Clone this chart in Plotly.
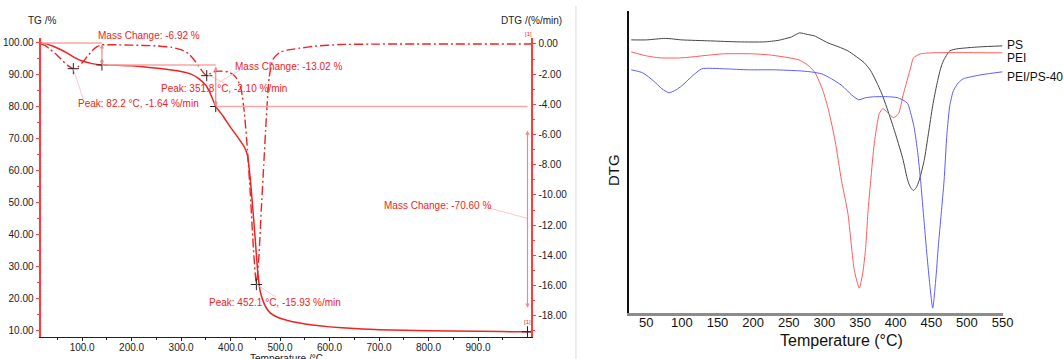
import plotly.graph_objects as go

W, H = 1064, 359


def px(x):
    return x / W


def py(y):
    return 1 - y / H


FONT = "Liberation Sans, Arial, sans-serif"
RED = "#ec2424"
PINK = "#f6a6a6"
LEAD = "#f7bcbc"

# ---------------- Left panel: TG / DTG of PEI/PS-40 ----------------
TG_T = [16, 25, 40, 55, 70, 85, 100, 120, 140, 170, 200, 235, 270, 300, 320, 335, 350,
        360, 370, 385, 400, 415, 428, 434, 440, 446, 450, 455, 460, 466, 472, 480, 495,
        515, 540, 570, 600, 650, 700, 800, 900, 1000, 1008]
TG = [100.0, 99.8, 99.0, 98.0, 96.8, 95.4, 94.3, 93.5, 93.1, 93.0, 92.8, 92.3, 91.7, 91.0,
      90.2, 88.9, 86.7, 83.8, 80.1, 77.0, 73.5, 70.3, 67.3, 64.8, 57.0, 46.0, 38.0, 28.0,
      22.0, 19.0, 17.0, 15.4, 14.0, 13.0, 12.2, 11.5, 11.0, 10.5, 10.1, 9.8, 9.6, 9.46, 9.45]

DTG_T = [16, 25, 35, 48, 60, 70, 82.2, 92, 100, 110, 120, 130, 140, 170, 200, 250, 280, 300,
         315, 325, 335, 345, 351.8, 358, 366, 378, 395, 408, 416, 422, 428, 434, 440, 446,
         452.1, 457, 462, 467, 472, 478, 486, 500, 520, 540, 570, 620, 700, 800, 1008]
DTG = [0.0, -0.1, -0.35, -0.7, -1.1, -1.4, -1.64, -1.5, -1.25, -0.85, -0.46, -0.18, -0.06,
       -0.06, -0.08, -0.13, -0.22, -0.38, -0.65, -1.0, -1.45, -1.9, -2.10, -1.98, -1.85,
       -1.8, -1.85, -2.1, -2.5, -3.1, -4.6, -7.0, -10.0, -13.5, -15.93, -14.2, -11.0, -8.0,
       -5.0, -2.2, -1.0, -0.55, -0.38, -0.28, -0.15, -0.04, -0.01, 0.0, 0.0]

PEAK_T = [82.2, 351.8, 452.1]
PEAK_DTG = [-1.64, -2.10, -15.93]
STEP_T = [140, 370, 1000]
STEP_TG = [100.0, 93.08, 80.06, 9.46]
MASS_CHANGE = [-6.92, -13.02, -70.60]

TG_TICKS = [10, 20, 30, 40, 50, 60, 70, 80, 90, 100]
DTG_TICKS = [0, -2, -4, -6, -8, -10, -12, -14, -16, -18]
T_TICKS = [100, 200, 300, 400, 500, 600, 700, 800, 900]

# ---------------- Right panel: DTG comparison ----------------
PS_T = [29, 50, 77, 100, 140, 180, 216, 235, 244, 254, 265, 276, 286, 305, 320, 333, 356, 365,
        380, 397, 410, 417, 421, 425, 429, 433, 440, 446, 452, 458, 463, 467, 476, 486, 518, 550]
PS = [2.74, 2.74, 2.755, 2.74, 2.73, 2.72, 2.72, 2.735, 2.75, 2.77, 2.81, 2.795, 2.78, 2.71,
      2.67, 2.63, 2.51, 2.43, 2.21, 1.86, 1.55, 1.33, 1.26, 1.23, 1.26, 1.33, 1.53, 1.80,
      2.08, 2.30, 2.45, 2.53, 2.63, 2.65, 2.67, 2.68]

PEI_T = [29, 50, 69, 100, 157, 200, 222, 264, 278, 287, 298, 306, 315, 324, 333, 342, 349, 354,
         358, 361, 365, 370, 377, 382, 389, 397, 404, 411, 421, 425, 435, 450, 550]
PEI = [2.62, 2.58, 2.56, 2.56, 2.60, 2.60, 2.59, 2.54, 2.48, 2.41, 2.23, 2.03, 1.73, 1.33,
       1.00, 0.43, 0.25, 0.41, 0.66, 1.00, 1.33, 1.70, 2.00, 2.05, 2.01, 1.96, 2.00, 2.20,
       2.46, 2.56, 2.60, 2.61, 2.61]

BL_T = [29, 45, 60, 72, 82, 92, 100, 115, 128, 160, 193, 230, 264, 280, 296, 310, 325, 338,
        348, 358, 370, 390, 403, 412, 417, 421, 426, 431, 435, 440, 444, 448, 452, 456, 460,
        464, 468, 472, 476, 481, 488, 495, 520, 550]
BL = [2.44, 2.41, 2.33, 2.25, 2.21, 2.24, 2.28, 2.38, 2.45, 2.45, 2.44, 2.44, 2.43, 2.42,
      2.40, 2.35, 2.28, 2.19, 2.14, 2.16, 2.17, 2.17, 2.16, 2.13, 2.10, 2.01, 1.86, 1.61,
      1.33, 0.91, 0.58, 0.28, 0.05, 0.31, 0.68, 1.00, 1.33, 1.80, 2.08, 2.23, 2.31, 2.35,
      2.39, 2.42]
R_TICKS = [50, 100, 150, 200, 250, 300, 350, 400, 450, 500, 550]
NAMES = ["PS", "PEI", "PEI/PS-40"]

fig = go.Figure()

# left panel curves
fig.add_trace(go.Scatter(x=TG_T, y=TG, mode="lines", xaxis="x", yaxis="y",
                         line=dict(color=RED, width=1.5, shape="spline", smoothing=0.5)))
fig.add_trace(go.Scatter(x=DTG_T, y=DTG, mode="lines", xaxis="x", yaxis="y2",
                         line=dict(color=RED, width=1.4, dash="9px,3px,2px,3px",
                                   shape="spline", smoothing=0.5)))
fig.add_trace(go.Scatter(x=PEAK_T, y=PEAK_DTG, mode="markers", xaxis="x", yaxis="y2",
                         marker=dict(symbol="cross-thin", size=8, line=dict(color="#222", width=1))))
fig.add_trace(go.Scatter(x=STEP_T, y=STEP_TG[1:], mode="markers", xaxis="x", yaxis="y",
                         marker=dict(symbol="cross-thin", size=8, line=dict(color="#222", width=1))))

# right panel curves
for xs, ys, col in [(PS_T, PS, "#454545"), (PEI_T, PEI, "#ff5c5c"), (BL_T, BL, "#5c5cff")]:
    fig.add_trace(go.Scatter(x=xs, y=ys, mode="lines", xaxis="x2", yaxis="y3",
                             line=dict(color=col, width=1, shape="spline", smoothing=0.6)))

shapes = []
# mass-change reference lines (TG axis)
shapes.append(dict(type="line", xref="x", yref="y", x0=18, x1=STEP_T[0],
                   y0=STEP_TG[0], y1=STEP_TG[0], line=dict(color=PINK, width=1.5)))
shapes.append(dict(type="line", xref="x", yref="y", x0=STEP_T[0], x1=STEP_T[1],
                   y0=STEP_TG[1], y1=STEP_TG[1], line=dict(color=PINK, width=1.5)))
shapes.append(dict(type="line", xref="x", yref="y", x0=STEP_T[1], x1=STEP_T[2],
                   y0=STEP_TG[2], y1=STEP_TG[2], line=dict(color=PINK, width=1.5)))
# leader lines
for (a, b, c, d) in [(74, 68, 84, 98), (210, 74, 228, 83), (243, 69, 219, 83),
                     (259, 284, 279, 297), (492, 207, 533, 218)]:
    shapes.append(dict(type="line", xref="paper", yref="paper", x0=px(a), y0=py(b),
                       x1=px(c), y1=py(d), line=dict(color=LEAD, width=0.8)))
# panel separator
shapes.append(dict(type="line", xref="paper", yref="paper", x0=px(582), x1=px(582),
                   y0=py(5), y1=0, line=dict(color="#dcdcdc", width=1)))

ann = []


def txt(x, y, s, size=10, color=RED, **kw):
    d = dict(x=px(x), y=py(y), xref="paper", yref="paper", text=s, showarrow=False,
             xanchor="center", yanchor="middle",
             font=dict(family=FONT, size=size, color=color))
    d.update(kw)
    ann.append(d)


# vertical mass-change arrows
arrow_spans = [(STEP_T[0], STEP_TG[0], STEP_TG[1]), (STEP_T[1], STEP_TG[1], STEP_TG[2]),
               (STEP_T[2], 73.0, 17.0)]
for xv, ytop, ybot in arrow_spans:
    ann.append(dict(x=xv, y=ybot, ax=xv, ay=ytop, xref="x", yref="y", axref="x", ayref="y",
                    text="", showarrow=True, arrowhead=2, arrowside="end+start",
                    arrowsize=0.7, arrowwidth=1.2, arrowcolor="#f08888"))

txt(151, 35, "Mass Change: %.2f %%" % MASS_CHANGE[0])
txt(292, 66, "Mass Change: %.2f %%" % MASS_CHANGE[1])
txt(442, 205, "Mass Change: %.2f %%" % MASS_CHANGE[2])
txt(140, 103, "Peak: %.1f °C, %.2f %%/min" % (PEAK_T[0], PEAK_DTG[0]))
txt(226, 88, "Peak: %.1f °C, %.2f %%/min" % (PEAK_T[1], PEAK_DTG[1]))
txt(278, 302, "Peak: %.1f °C, %.2f %%/min" % (PEAK_T[2], PEAK_DTG[2]))
txt(42.5, 20, "TG /%", color="#222")
txt(537.5, 20, "DTG /(%/min)", color="#222")
txt(534, 33, "[1]", size=6)
txt(533, 322, "[1]", size=6)
txt(289, 351, "Temperature /°C", color="#222", yanchor="top")

# right panel texts
txt(850, 340, "Temperature (°C)", size=16, color="#111")
txt(620, 170, "DTG", size=15, color="#111", textangle=-90)
for name, yy in zip(NAMES, [44, 57, 76]):
    txt(1015, yy, name, size=12, color="#111", xanchor="left")

tick_font = dict(family=FONT, size=10, color="#222")
fig.update_layout(
    width=W, height=H, autosize=False,
    margin=dict(l=0, r=0, t=0, b=0),
    paper_bgcolor="white", plot_bgcolor="white",
    showlegend=False,
    shapes=shapes, annotations=ann,
    xaxis=dict(domain=[px(41), px(537)], range=[16, 1008], anchor="y",
               showline=True, linecolor="#222", linewidth=1, showgrid=False, zeroline=False,
               ticks="outside", ticklen=3, tickcolor="#222",
               tickmode="array", tickvals=T_TICKS, ticktext=["%.1f" % v for v in T_TICKS],
               tickfont=tick_font, ticklabelstandoff=-2,
               minor=dict(tickmode="array", tickvals=[50 + 100 * i for i in range(10)],
                          ticks="outside", ticklen=2, tickcolor="#222")),
    yaxis=dict(domain=[py(337), py(37)], range=[7.81, 101.56], anchor="x",
               showline=True, linecolor="#ff3b3b", linewidth=2, showgrid=False, zeroline=False,
               ticks="outside", ticklen=3, tickcolor="#ff3b3b",
               tickmode="array", tickvals=TG_TICKS, ticktext=["%.2f" % v for v in TG_TICKS],
               tickfont=tick_font,
               minor=dict(tickmode="array", tickvals=[15 + 10 * i for i in range(9)],
                          ticks="outside", ticklen=2, tickcolor="#ff3b3b")),
    yaxis2=dict(overlaying="y", side="right", anchor="x", range=[-19.41, 0.40],
                showline=True, linecolor="#ff3b3b", linewidth=2, showgrid=False,
                zeroline=False, ticks="outside", ticklen=3, tickcolor="#ff3b3b",
                tickmode="array", tickvals=DTG_TICKS,
                ticktext=["%.2f" % v if v != 0 else "0.00" for v in DTG_TICKS],
                tickfont=tick_font,
                minor=dict(tickmode="array", tickvals=[-1 - 2 * i for i in range(10)],
                           ticks="outside", ticklen=2, tickcolor="#ff3b3b")),
    xaxis2=dict(domain=[px(636), px(1013)], range=[26.4, 550], anchor="y3",
                showline=True, linecolor="#8c8c8c", linewidth=2.5, showgrid=False,
                zeroline=False, ticks="", tickmode="array", tickvals=R_TICKS,
                ticklabelstandoff=-4,
                tickfont=dict(family=FONT, size=13, color="#111")),
    yaxis3=dict(domain=[py(313), py(10)], range=[0, 3.03], anchor="x2",
                showline=True, linecolor="#111", linewidth=1.5, showgrid=False,
                zeroline=False, showticklabels=False, ticks=""),
)

fig.write_html("out.html")
